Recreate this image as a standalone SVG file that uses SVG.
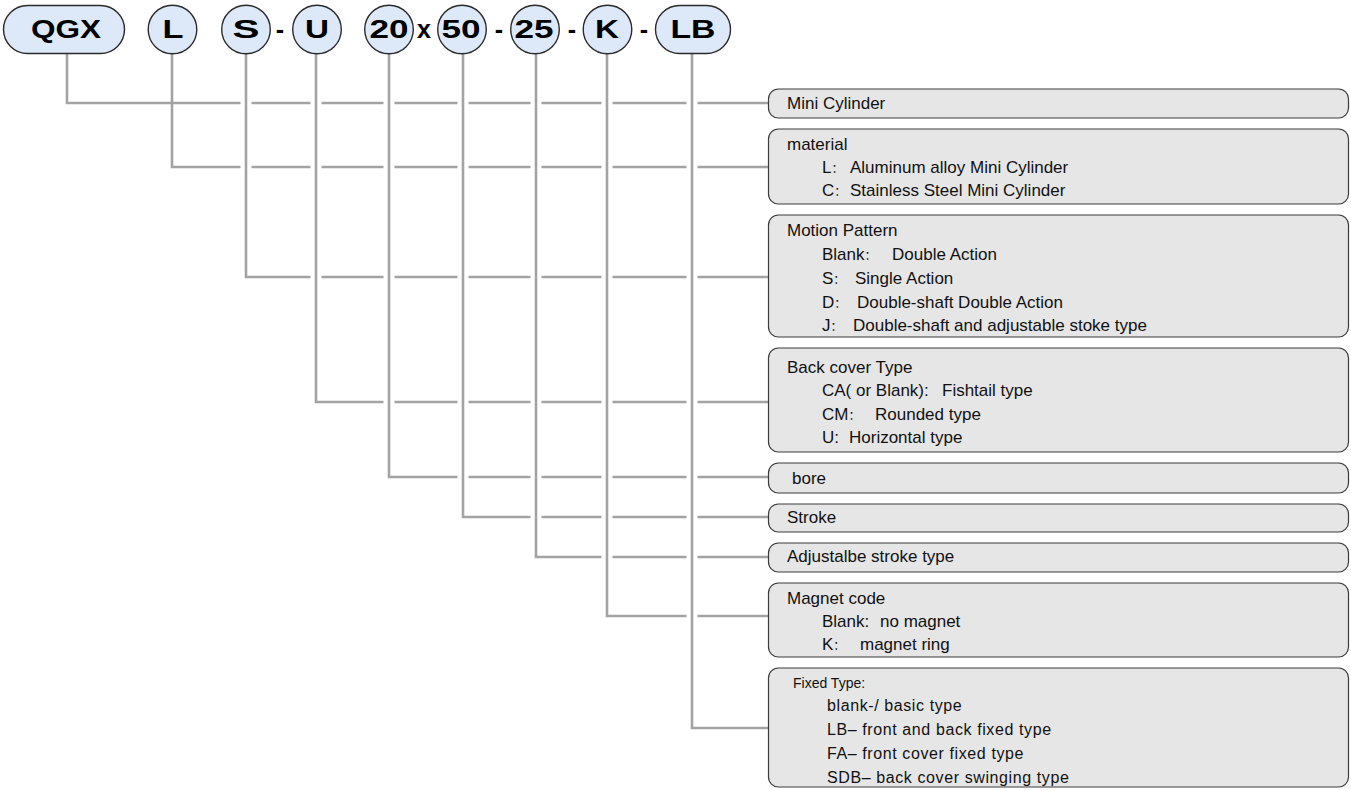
<svg xmlns="http://www.w3.org/2000/svg" width="1351" height="790" viewBox="0 0 1351 790">
<style>
.bg{fill:#ffffff}
.nd{fill:#dde9f8;stroke:#2a2a2a;stroke-width:1.4}
.hd{font-family:"Liberation Sans",Arial,sans-serif;font-weight:bold;font-size:25px;fill:#000;text-anchor:middle}
.sep{font-family:"Liberation Sans",Arial,sans-serif;font-weight:bold;font-size:25px;fill:#000;text-anchor:middle}
.cn{fill:none;stroke:#a3a3a3;stroke-width:2.6}
.bx{fill:#e6e6e6;stroke:#3a3a3a;stroke-width:1.2}
.t{font-family:"Liberation Sans",Arial,sans-serif;font-size:17px;fill:#111}
.tf{font-family:"Liberation Sans",Arial,sans-serif;font-size:14px;fill:#111}
.tg{font-family:"Liberation Sans",Arial,sans-serif;font-size:16px;letter-spacing:0.6px;fill:#111}
.c{font-family:"Noto Sans CJK SC",sans-serif;font-size:12px}
</style>
<rect class="bg" x="0" y="0" width="1351" height="790"/>
<g id="connectors">
<path class="cn" d="M67,53 V103 H240.5 M251.5,103 H310.5 M321.5,103 H383.5 M394.5,103 H457.5 M468.5,103 H530.5 M541.5,103 H601.5 M612.5,103 H686.5 M697.5,103 H768"/>
<path class="cn" d="M172,53 V167 H240.5 M251.5,167 H310.5 M321.5,167 H383.5 M394.5,167 H457.5 M468.5,167 H530.5 M541.5,167 H601.5 M612.5,167 H686.5 M697.5,167 H768"/>
<path class="cn" d="M246,53 V277 H310.5 M321.5,277 H383.5 M394.5,277 H457.5 M468.5,277 H530.5 M541.5,277 H601.5 M612.5,277 H686.5 M697.5,277 H768"/>
<path class="cn" d="M316,53 V402 H383.5 M394.5,402 H457.5 M468.5,402 H530.5 M541.5,402 H601.5 M612.5,402 H686.5 M697.5,402 H768"/>
<path class="cn" d="M389,53 V477 H457.5 M468.5,477 H530.5 M541.5,477 H601.5 M612.5,477 H686.5 M697.5,477 H768"/>
<path class="cn" d="M463,53 V517 H530.5 M541.5,517 H601.5 M612.5,517 H686.5 M697.5,517 H768"/>
<path class="cn" d="M536,53 V557 H601.5 M612.5,557 H686.5 M697.5,557 H768"/>
<path class="cn" d="M607,53 V616 H686.5 M697.5,616 H768"/>
<path class="cn" d="M692,53 V728 H768"/>
</g>
<g id="code">
<g id="n-qgx"><rect class="nd" x="3.5" y="5.5" width="121" height="48" rx="24"/><text class="hd" x="66" y="38" textLength="70" lengthAdjust="spacingAndGlyphs">QGX</text></g>
<g id="n-l"><circle class="nd" cx="172.5" cy="29.5" r="24.3"/><text class="hd" x="173" y="38" textLength="21" lengthAdjust="spacingAndGlyphs">L</text></g>
<g id="n-s"><circle class="nd" cx="246" cy="29.5" r="24.3"/><text class="hd" x="246" y="38" textLength="27" lengthAdjust="spacingAndGlyphs">S</text></g>
<text class="sep" x="280" y="38">-</text>
<g id="n-u"><circle class="nd" cx="317" cy="29.5" r="24.3"/><text class="hd" x="317" y="38" textLength="24" lengthAdjust="spacingAndGlyphs">U</text></g>
<g id="n-20"><circle class="nd" cx="389" cy="29.5" r="24.3"/><text class="hd" x="389" y="38" textLength="39" lengthAdjust="spacingAndGlyphs">20</text></g>
<text class="sep" x="424" y="38">x</text>
<g id="n-50"><circle class="nd" cx="462" cy="29.5" r="24.3"/><text class="hd" x="461" y="38" textLength="39" lengthAdjust="spacingAndGlyphs">50</text></g>
<text class="sep" x="499" y="38">-</text>
<g id="n-25"><circle class="nd" cx="535" cy="29.5" r="24.3"/><text class="hd" x="534" y="38" textLength="39" lengthAdjust="spacingAndGlyphs">25</text></g>
<text class="sep" x="572" y="38">-</text>
<g id="n-k"><circle class="nd" cx="607.5" cy="29.5" r="24.3"/><text class="hd" x="607" y="38" textLength="24" lengthAdjust="spacingAndGlyphs">K</text></g>
<text class="sep" x="644" y="38">-</text>
<g id="n-lb"><rect class="nd" x="655.5" y="5.5" width="75" height="48" rx="24"/><text class="hd" x="693" y="38" textLength="45" lengthAdjust="spacingAndGlyphs">LB</text></g>
</g>
<g id="b-mini"><rect class="bx" x="768.5" y="89" width="580" height="29" rx="10"/><text class="t" x="787" y="109">Mini Cylinder</text></g>
<g id="b-material"><rect class="bx" x="768.5" y="129" width="580" height="75" rx="10"/>
<text class="t" x="787" y="150">material</text>
<text class="t" y="173"><tspan x="822">L</tspan><tspan class="c">：</tspan><tspan x="850">Aluminum alloy Mini Cylinder</tspan></text>
<text class="t" y="196"><tspan x="822">C</tspan><tspan class="c">：</tspan><tspan x="850">Stainless Steel Mini Cylinder</tspan></text></g>
<g id="b-motion"><rect class="bx" x="768.5" y="215" width="580" height="122" rx="10"/>
<text class="t" x="787" y="236">Motion Pattern</text>
<text class="t" y="260"><tspan x="822">Blank</tspan><tspan class="c">：</tspan><tspan x="892">Double Action</tspan></text>
<text class="t" y="284"><tspan x="822">S</tspan><tspan class="c">：</tspan><tspan x="855">Single Action</tspan></text>
<text class="t" y="308"><tspan x="822">D</tspan><tspan class="c">：</tspan><tspan x="857">Double-shaft Double Action</tspan></text>
<text class="t" y="331"><tspan x="822">J</tspan><tspan class="c">：</tspan><tspan x="853">Double-shaft and adjustable stoke type</tspan></text></g>
<g id="b-back"><rect class="bx" x="768.5" y="348" width="580" height="104" rx="10"/>
<text class="t" x="787" y="373">Back cover Type</text>
<text class="t" y="396"><tspan x="822">CA( or Blank):</tspan><tspan x="942">Fishtail type</tspan></text>
<text class="t" y="420"><tspan x="822">CM</tspan><tspan class="c">：</tspan><tspan x="875">Rounded type</tspan></text>
<text class="t" y="443"><tspan x="822">U:</tspan><tspan x="849">Horizontal type</tspan></text></g>
<g id="b-bore"><rect class="bx" x="768.5" y="463" width="580" height="30" rx="10"/><text class="t" x="792" y="484">bore</text></g>
<g id="b-stroke"><rect class="bx" x="768.5" y="504" width="580" height="28" rx="10"/><text class="t" x="787" y="523">Stroke</text></g>
<g id="b-adj"><rect class="bx" x="768.5" y="543" width="580" height="29" rx="10"/><text class="t" x="787" y="562">Adjustalbe stroke type</text></g>
<g id="b-magnet"><rect class="bx" x="768.5" y="583" width="580" height="74" rx="10"/>
<text class="t" x="787" y="604">Magnet code</text>
<text class="t" y="627"><tspan x="822">Blank:</tspan><tspan x="880">no magnet</tspan></text>
<text class="t" y="650"><tspan x="822">K</tspan><tspan class="c">：</tspan><tspan x="860">magnet ring</tspan></text></g>
<g id="b-fixed"><rect class="bx" x="768.5" y="668" width="580" height="119" rx="10"/>
<text class="tf" x="793" y="688">Fixed Type:</text>
<text class="tg" x="827" y="711">blank-/ basic type</text>
<text class="tg" x="827" y="735">LB– front and back fixed type</text>
<text class="tg" x="827" y="759">FA– front cover fixed type</text>
<text class="tg" x="827" y="783">SDB– back cover swinging type</text></g>
</svg>
